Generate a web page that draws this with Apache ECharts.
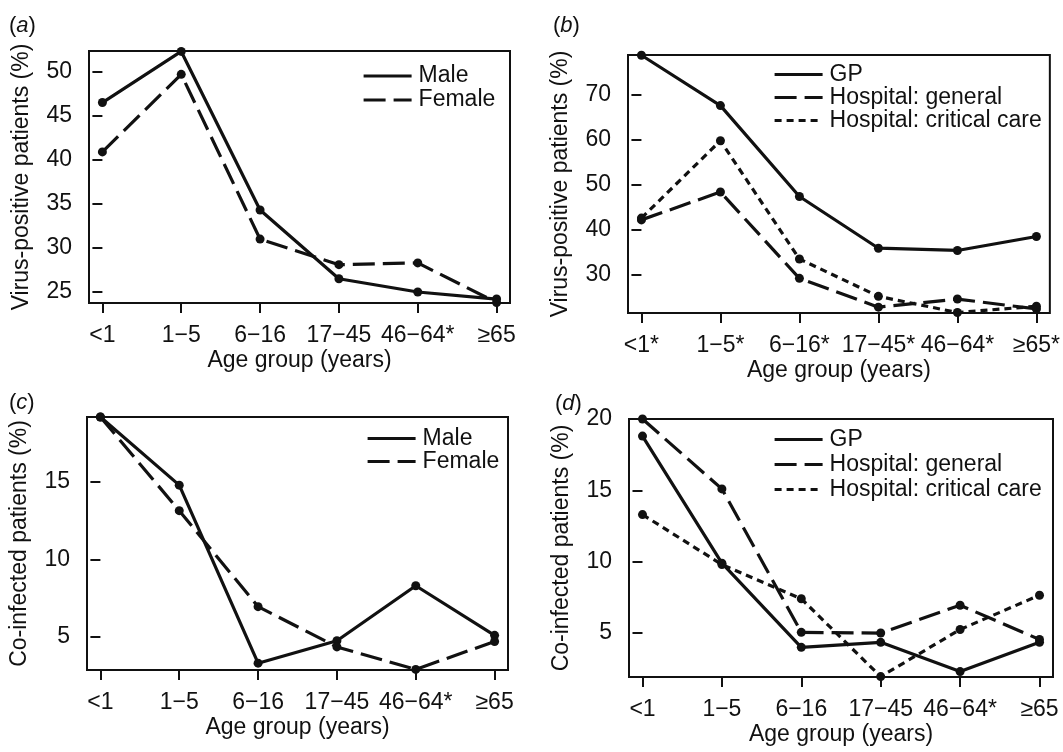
<!DOCTYPE html>
<html>
<head>
<meta charset="utf-8">
<script src="https://cdn.jsdelivr.net/npm/echarts@6/dist/echarts.min.js"></script>
<style>
  html, body { margin: 0; padding: 0; background: #fff; }
  #chart { width: 1063px; height: 752px; }
</style>
</head>
<body>
<div id="chart"></div>
<script>
// age groups (x tick labels)
const agesA = ['<1', '1\u22125', '6\u221216', '17\u221245', '46\u221264*', '\u226565']
const agesB = ['<1*', '1\u22125*', '6\u221216*', '17\u221245*', '46\u221264*', '\u226565*']

// (a) virus-positive by sex
const aMale = [46.5, 52.3, 34.3, 26.5, 25.0, 24.2]
const aFemale = [40.9, 49.7, 31.0, 28.1, 28.3, 23.8]
const aTicks = [25, 30, 35, 40, 45, 50]

// (b) virus-positive by setting
const bGP = [78.8, 67.6, 47.4, 35.9, 35.4, 38.5]
const bGeneral = [42.2, 48.4, 29.2, 22.8, 24.6, 22.4]
const bCritical = [42.6, 59.8, 33.5, 25.2, 21.6, 23.0]
const bTicks = [30, 40, 50, 60, 70]

// (c) co-infected by sex
const cMale = [19.2, 14.8, 3.3, 4.75, 8.3, 5.1]
const cFemale = [19.2, 13.15, 6.95, 4.35, 2.9, 4.7]
const cTicks = [5, 10, 15]

// (d) co-infected by setting
const dGP = [18.8, 9.9, 4.0, 4.35, 2.3, 4.35]
const dGeneral = [20.0, 15.1, 5.05, 5.0, 6.95, 4.55]
const dCritical = [13.3, 9.8, 7.4, 1.95, 5.25, 7.65]
const dTicks = [5, 10, 15, 20]

const FONT = '"Liberation Sans", Arial, Helvetica, sans-serif'
const INK = '#111'
const FS = 23

// line styles like R lty 1 / 2 / 3
const styles = {
  solid: 'solid',
  dashed: [22, 8],
  dotted: [7, 5]
}

const grids = []
const xAxes = []
const yAxes = []
const series = []
const legends = []
const titles = []

function panel (box, cats, yMin, yMax, yTicks, yName, lines, leg, tag) {
  const gi = grids.length
  grids.push({
    left: box[0], top: box[1], width: box[2], height: box[3],
    show: true, borderColor: INK, borderWidth: 2, backgroundColor: 'transparent'
  })
  xAxes.push({
    gridIndex: gi, type: 'value', min: -0.17, max: 5.17,
    name: 'Age group (years)', nameLocation: 'middle', nameGap: 46,
    nameTextStyle: { fontFamily: FONT, fontSize: FS, color: INK },
    axisLine: { show: false },
    splitLine: { show: false },
    axisTick: { show: true, length: 10, customValues: [0, 1, 2, 3, 4, 5], lineStyle: { color: INK, width: 2 } },
    axisLabel: {
      customValues: [0, 1, 2, 3, 4, 5], margin: 21,
      fontFamily: FONT, fontSize: FS, color: INK,
      formatter: v => cats[Math.round(v)]
    }
  })
  yAxes.push({
    gridIndex: gi, type: 'value', min: yMin, max: yMax,
    name: yName, nameLocation: 'middle', nameGap: 56,
    nameTextStyle: { fontFamily: FONT, fontSize: FS, color: INK },
    axisLine: { show: false },
    splitLine: { show: false },
    axisTick: { show: true, length: 10, customValues: yTicks, lineStyle: { color: INK, width: 2 } },
    axisLabel: { customValues: yTicks, margin: 17, fontFamily: FONT, fontSize: FS, color: INK }
  })
  lines.forEach(l => {
    series.push({
      name: l.name, type: 'line', xAxisIndex: gi, yAxisIndex: gi,
      data: l.values.map((v, i) => [i, v]),
      symbol: 'circle', symbolSize: 9, clip: false,
      itemStyle: { color: INK },
      lineStyle: { color: INK, width: 3.2, type: l.type },
      emphasis: { disabled: true },
      animation: false
    })
  })
  legends.push({
    orient: 'vertical', left: leg[0], top: leg[1], padding: 0,
    data: lines.map(l => l.name),
    itemWidth: 48, itemHeight: 14, itemGap: 0,
    itemStyle: { opacity: 0 },
    lineStyle: { width: 3.2 },
    selectedMode: false,
    textStyle: { fontFamily: FONT, fontSize: FS, color: INK, lineHeight: leg[2], padding: [0, 0, 0, 2] }
  })
  titles.push({
    text: '({i|' + tag + '})', left: box[4], top: box[5], padding: 0,
    textStyle: {
      fontFamily: FONT, fontSize: 22, fontWeight: 'normal', color: INK,
      rich: { i: { fontFamily: FONT, fontSize: 22, fontStyle: 'italic', color: INK } }
    }
  })
}

panel([89, 51, 421, 252, 9, 15], agesA, 23.75, 52.35, aTicks, 'Virus-positive patients (%)', [
  { name: 'Male', values: aMale, type: styles.solid },
  { name: 'Female', values: aFemale, type: styles.dashed }
], [362, 64, 24], 'a')

panel([628, 55, 425, 258, 553, 15], agesB, 21.5, 78.85, bTicks, 'Virus-positive patients (%)', [
  { name: 'GP', values: bGP, type: styles.solid },
  { name: 'Hospital: general', values: bGeneral, type: styles.dashed },
  { name: 'Hospital: critical care', values: bCritical, type: styles.dotted }
], [773, 63, 23], 'b')

panel([87, 417, 421, 253, 9, 392], agesA, 2.86, 19.2, cTicks, 'Co-infected patients (%)', [
  { name: 'Male', values: cMale, type: styles.solid },
  { name: 'Female', values: cFemale, type: styles.dashed }
], [366, 427, 21], 'c')

panel([629, 419, 424, 258, 555, 393], agesA, 1.92, 20.0, dTicks, 'Co-infected patients (%)', [
  { name: 'GP', values: dGP, type: styles.solid },
  { name: 'Hospital: general', values: dGeneral, type: styles.dashed },
  { name: 'Hospital: critical care', values: dCritical, type: styles.dotted }
], [773, 427, 25], 'd')

const chart = echarts.init(document.getElementById('chart'), null, { renderer: 'canvas' })
chart.setOption({
  backgroundColor: '#fff',
  animation: false,
  title: titles,
  legend: legends,
  grid: grids,
  xAxis: xAxes,
  yAxis: yAxes,
  series: series
})
</script>
</body>
</html>
